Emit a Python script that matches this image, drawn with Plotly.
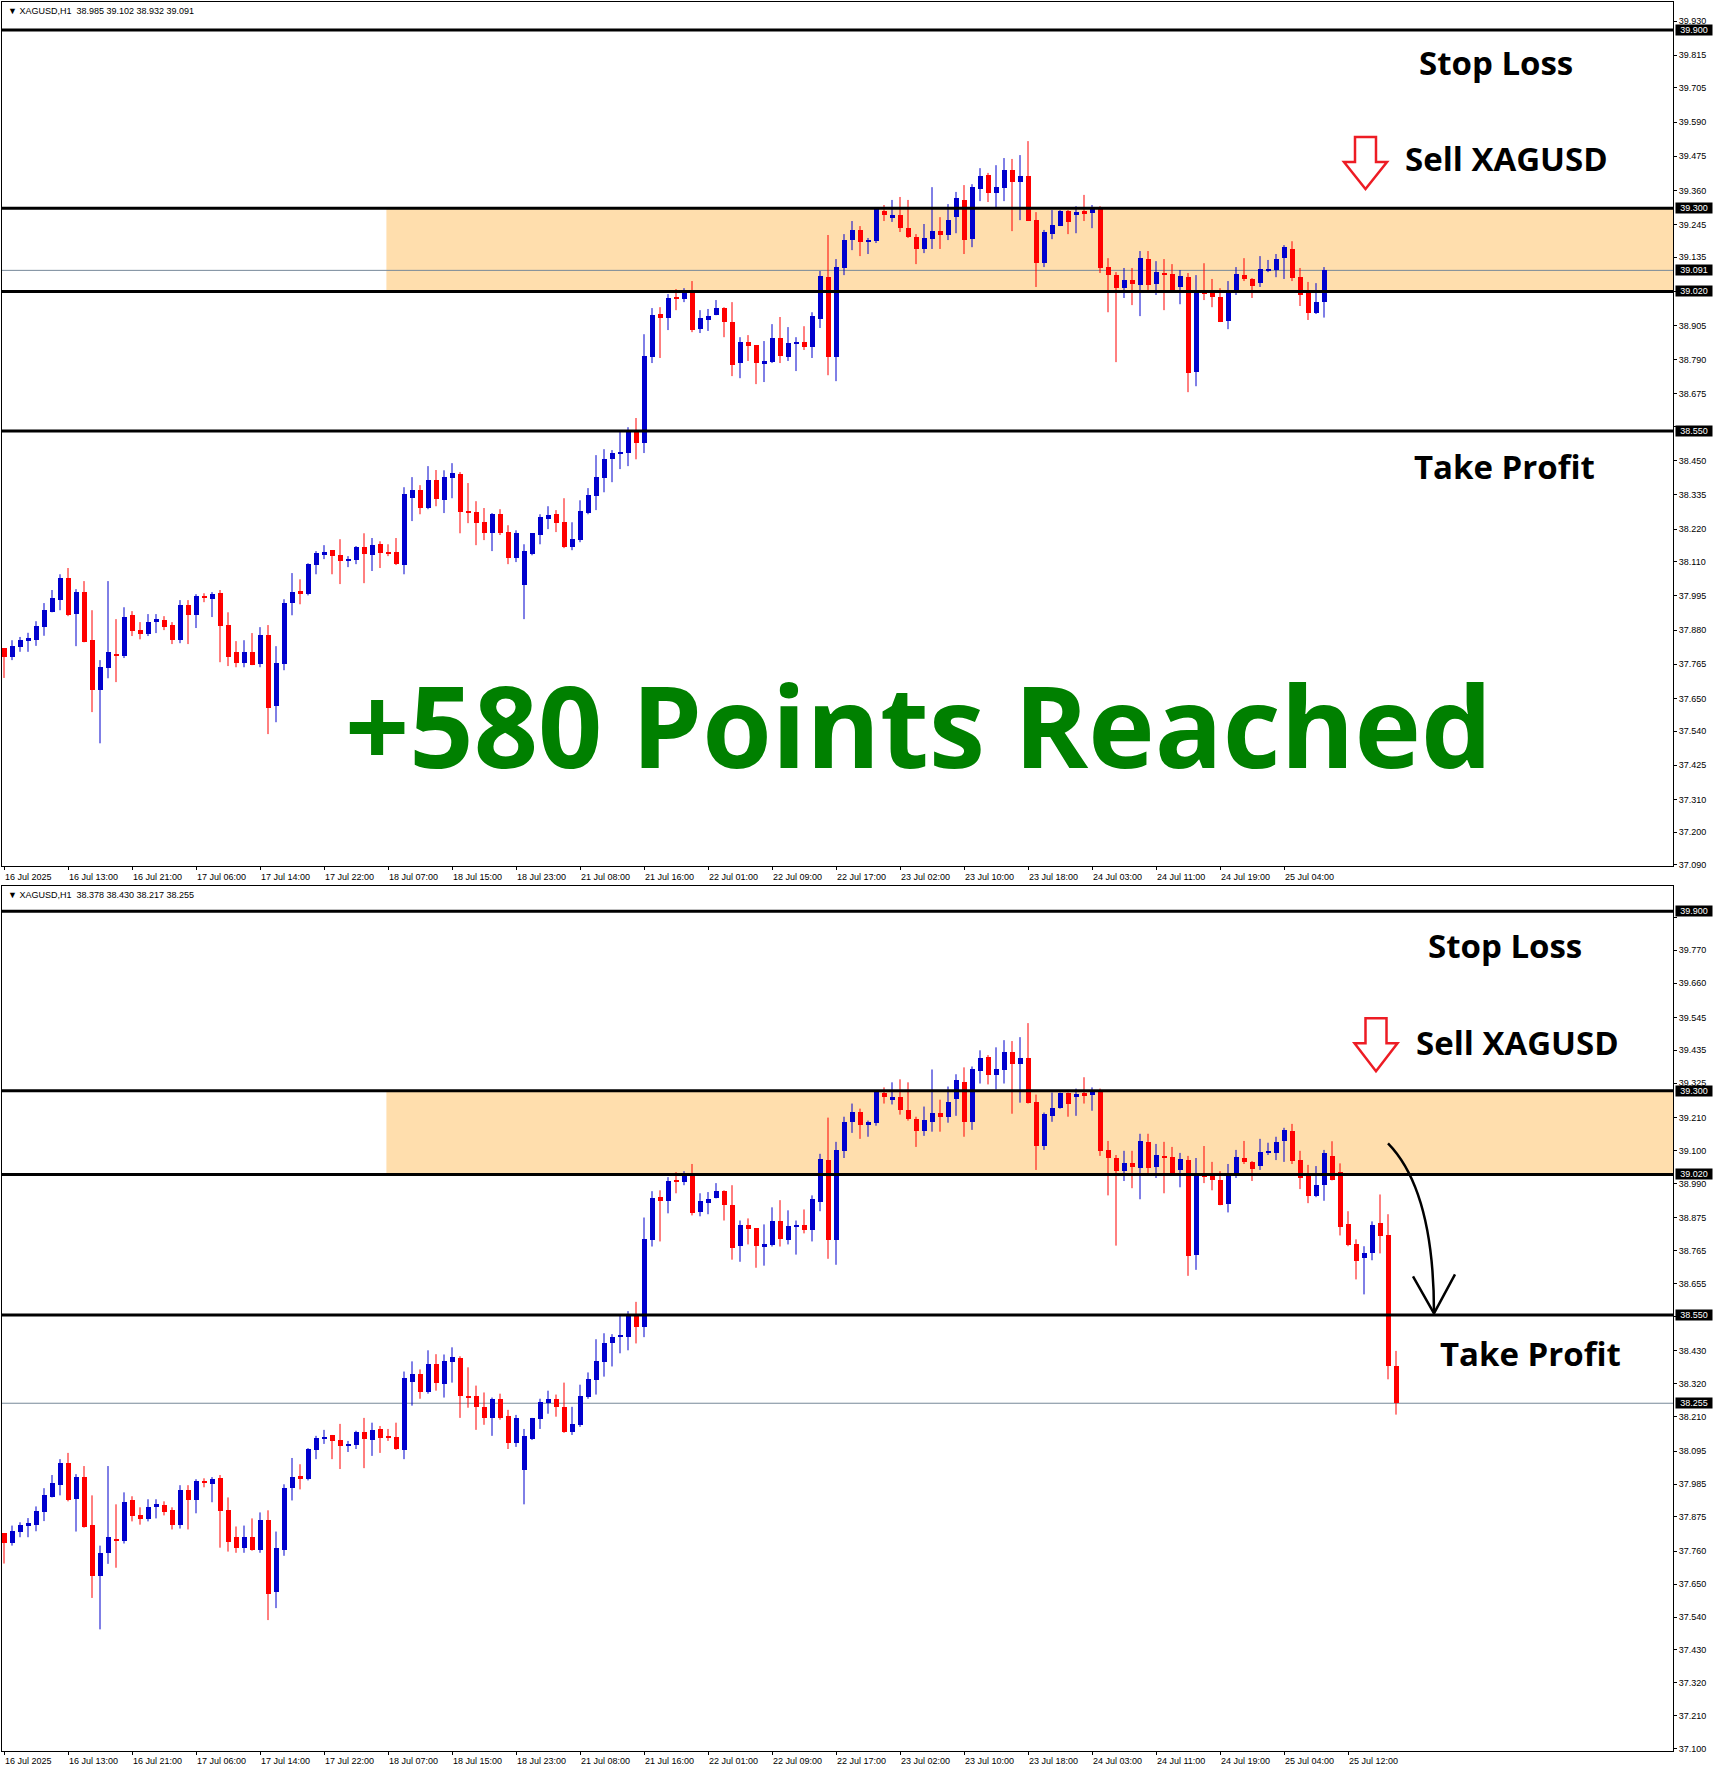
import plotly.graph_objects as go

W, H = 1714, 1768
H_EFF = 1763.5   # vertical compensation measured from the first render

# ---------------- data (XAGUSD H1) ----------------
opens = [37.819, 37.788, 37.824, 37.844, 37.846, 37.891, 37.940, 37.981, 38.055, 37.934,
         38.008, 37.846, 37.678, 37.752, 37.800, 37.792, 37.930, 37.880, 37.866, 37.907,
         37.913, 37.897, 37.846, 37.964, 37.930, 37.994, 37.984, 38.004, 37.897, 37.806,
         37.769, 37.806, 37.765, 37.863, 37.624, 37.765, 37.971, 38.011, 38.001, 38.099,
         38.136, 38.149, 38.132, 38.112, 38.115, 38.159, 38.132, 38.169, 38.142, 38.142,
         38.099, 38.324, 38.351, 38.291, 38.385, 38.317, 38.392, 38.405, 38.277, 38.277,
         38.243, 38.206, 38.270, 38.210, 38.122, 38.031, 38.136, 38.200, 38.254, 38.270,
         38.243, 38.159, 38.183, 38.274, 38.331, 38.392, 38.456, 38.476, 38.475, 38.550,
         38.509, 38.799, 38.944, 38.930, 38.998, 38.994, 39.018, 38.893, 38.924, 38.940,
         38.964, 38.917, 38.779, 38.850, 38.839, 38.775, 38.782, 38.863, 38.799, 38.846,
         38.850, 38.833, 38.927, 39.068, 38.799, 39.099, 39.193, 39.227, 39.186, 39.190,
         39.291, 39.267, 39.277, 39.233, 39.203, 39.163, 39.196, 39.223, 39.210, 39.270,
         39.328, 39.196, 39.365, 39.412, 39.351, 39.368, 39.429, 39.388, 39.408, 39.260,
         39.115, 39.213, 39.240, 39.291, 39.277, 39.291, 39.284, 39.297, 39.102, 39.075,
         39.031, 39.058, 39.041, 39.129, 39.045, 39.082, 39.078, 39.035, 39.068, 38.749,
         39.018, 39.015, 39.001, 38.920, 39.015, 39.075, 39.062, 39.048, 39.092, 39.092,
         39.132, 39.163, 39.068, 39.015, 38.947, 38.985, 39.081, 39.027, 38.853, 38.786,
         38.739, 38.756, 38.857, 38.816, 38.378]
highs = [37.819, 37.846, 37.857, 37.871, 37.910, 37.971, 38.015, 38.068, 38.089, 38.018,
         38.045, 37.947, 37.779, 38.045, 37.917, 37.957, 37.944, 37.907, 37.934, 37.934,
         37.927, 37.907, 37.981, 37.981, 38.001, 38.004, 38.008, 38.015, 37.940, 37.843,
         37.846, 37.870, 37.890, 37.897, 37.826, 37.984, 38.072, 38.051, 38.105, 38.146,
         38.166, 38.149, 38.186, 38.129, 38.163, 38.206, 38.190, 38.179, 38.169, 38.190,
         38.361, 38.395, 38.368, 38.432, 38.419, 38.418, 38.442, 38.412, 38.375, 38.314,
         38.291, 38.274, 38.287, 38.233, 38.216, 38.169, 38.206, 38.270, 38.297, 38.284,
         38.324, 38.243, 38.317, 38.358, 38.469, 38.489, 38.486, 38.547, 38.563, 38.594,
         38.876, 38.964, 38.967, 39.011, 39.028, 39.031, 39.055, 38.957, 38.961, 38.991,
         38.967, 38.984, 38.866, 38.873, 38.839, 38.853, 38.910, 38.934, 38.900, 38.866,
         38.903, 38.950, 39.089, 39.210, 39.129, 39.213, 39.257, 39.240, 39.200, 39.297,
         39.311, 39.328, 39.338, 39.328, 39.213, 39.247, 39.371, 39.270, 39.314, 39.355,
         39.378, 39.381, 39.435, 39.419, 39.445, 39.469, 39.466, 39.479, 39.526, 39.287,
         39.227, 39.294, 39.294, 39.294, 39.307, 39.345, 39.311, 39.307, 39.132, 39.085,
         39.099, 39.099, 39.156, 39.156, 39.122, 39.129, 39.112, 39.092, 39.082, 39.075,
         39.115, 39.062, 39.031, 39.055, 39.102, 39.132, 39.065, 39.139, 39.126, 39.146,
         39.176, 39.189, 39.099, 39.052, 39.048, 39.102, 39.131, 39.057, 38.897, 38.803,
         38.780, 38.863, 38.953, 38.887, 38.430]
lows = [37.719, 37.779, 37.807, 37.807, 37.827, 37.861, 37.940, 37.947, 37.927, 37.826,
        37.839, 37.604, 37.499, 37.718, 37.705, 37.786, 37.860, 37.849, 37.860, 37.870,
        37.880, 37.833, 37.836, 37.833, 37.887, 37.974, 37.924, 37.772, 37.759, 37.755,
        37.755, 37.762, 37.755, 37.530, 37.570, 37.745, 37.930, 37.967, 37.997, 38.068,
        38.119, 38.068, 38.035, 38.092, 38.102, 38.038, 38.079, 38.089, 38.129, 38.099,
        38.068, 38.247, 38.270, 38.287, 38.297, 38.274, 38.324, 38.206, 38.240, 38.166,
        38.183, 38.146, 38.200, 38.102, 38.109, 37.917, 38.132, 38.169, 38.220, 38.210,
        38.156, 38.149, 38.176, 38.270, 38.284, 38.344, 38.378, 38.422, 38.432, 38.455,
        38.476, 38.779, 38.796, 38.890, 38.957, 38.984, 38.883, 38.880, 38.887, 38.940,
        38.866, 38.735, 38.728, 38.786, 38.708, 38.715, 38.779, 38.779, 38.786, 38.752,
        38.823, 38.796, 38.897, 38.738, 38.718, 39.075, 39.159, 39.139, 39.146, 39.183,
        39.257, 39.254, 39.220, 39.200, 39.112, 39.149, 39.163, 39.163, 39.193, 39.216,
        39.146, 39.169, 39.324, 39.321, 39.304, 39.324, 39.223, 39.260, 39.257, 39.035,
        39.102, 39.196, 39.240, 39.213, 39.216, 39.257, 39.233, 39.082, 38.950, 38.782,
        38.998, 38.974, 38.937, 39.025, 39.008, 38.957, 39.025, 38.977, 38.681, 38.701,
        38.991, 38.967, 38.917, 38.893, 39.008, 39.055, 38.998, 39.035, 39.085, 39.068,
        39.062, 39.055, 38.971, 38.924, 38.944, 38.932, 39.000, 38.816, 38.780, 38.669,
        38.619, 38.733, 38.756, 38.335, 38.217]
closes = [37.788, 37.826, 37.846, 37.853, 37.893, 37.947, 37.988, 38.055, 37.930, 38.008,
          37.839, 37.678, 37.755, 37.806, 37.793, 37.923, 37.876, 37.866, 37.907, 37.917,
          37.890, 37.846, 37.964, 37.930, 37.994, 37.989, 38.001, 37.893, 37.789, 37.769,
          37.806, 37.762, 37.863, 37.617, 37.769, 37.971, 38.008, 38.001, 38.102, 38.139,
          38.142, 38.129, 38.112, 38.119, 38.159, 38.136, 38.166, 38.139, 38.139, 38.102,
          38.338, 38.351, 38.291, 38.385, 38.321, 38.395, 38.408, 38.277, 38.275, 38.240,
          38.206, 38.270, 38.206, 38.122, 38.206, 38.146, 38.206, 38.260, 38.267, 38.240,
          38.159, 38.186, 38.280, 38.334, 38.395, 38.456, 38.476, 38.478, 38.550, 38.509,
          38.802, 38.940, 38.930, 38.998, 38.996, 39.018, 38.890, 38.930, 38.937, 38.964,
          38.917, 38.772, 38.850, 38.836, 38.779, 38.786, 38.863, 38.802, 38.846, 38.850,
          38.833, 38.937, 39.072, 38.799, 39.102, 39.193, 39.227, 39.186, 39.193, 39.297,
          39.277, 39.277, 39.233, 39.203, 39.163, 39.200, 39.223, 39.210, 39.260, 39.334,
          39.193, 39.371, 39.408, 39.351, 39.371, 39.429, 39.388, 39.408, 39.257, 39.115,
          39.220, 39.243, 39.291, 39.254, 39.287, 39.281, 39.297, 39.099, 39.075, 39.031,
          39.058, 39.045, 39.132, 39.041, 39.085, 39.075, 39.025, 39.072, 38.745, 39.018,
          39.011, 39.001, 38.917, 39.018, 39.078, 39.062, 39.038, 39.095, 39.095, 39.129,
          39.169, 39.065, 39.008, 38.947, 38.984, 39.091, 39.000, 38.843, 38.783, 38.729,
          38.756, 38.850, 38.813, 38.378, 38.255]

top_bar_count = 166          # bars visible in the upper snapshot
label_bars = [0, 8, 16, 24, 32, 40, 48, 56, 64, 72, 80, 88, 96, 104, 112, 120, 128, 136, 144, 152, 160, 168]
time_labels = ["16 Jul 2025", "16 Jul 13:00", "16 Jul 21:00", "17 Jul 06:00", "17 Jul 14:00",
               "17 Jul 22:00", "18 Jul 07:00", "18 Jul 15:00", "18 Jul 23:00", "21 Jul 08:00",
               "21 Jul 16:00", "22 Jul 01:00", "22 Jul 09:00", "22 Jul 17:00", "23 Jul 02:00",
               "23 Jul 10:00", "23 Jul 18:00", "24 Jul 03:00", "24 Jul 11:00", "24 Jul 19:00",
               "25 Jul 04:00", "25 Jul 12:00"]
top_label_count = 21

yticks_top = [39.930, 39.815, 39.705, 39.590, 39.475, 39.360, 39.245, 39.135, 39.020, 38.905,
              38.790, 38.675, 38.565, 38.450, 38.335, 38.220, 38.110, 37.995, 37.880, 37.765,
              37.650, 37.540, 37.425, 37.310, 37.200, 37.090]
yticks_bottom = [39.880, 39.770, 39.660, 39.545, 39.435, 39.325, 39.210, 39.100, 38.990, 38.875,
                 38.765, 38.655, 38.545, 38.430, 38.320, 38.210, 38.095, 37.985, 37.875, 37.760,
                 37.650, 37.540, 37.430, 37.320, 37.210, 37.100]
# tick labels that sit under a highlighted price box keep their tick but no text
covered_top = [39.020, 38.565]
covered_bottom = [39.880, 38.545]

stop_loss = 39.900
zone_high = 39.300
zone_low = 39.020
take_profit = 38.550
zone_start_bar = 47.8
top_current = 39.091
bottom_current = 38.255
top_header = "\u25bc XAGUSD,H1  38.985 39.102 38.932 39.091"
bottom_header = "\u25bc XAGUSD,H1  38.378 38.430 38.217 38.255"
headline = "+580 Points Reached"

# ---------------- styling ----------------
BLUE = "#0000CD"
RED = "#FF0000"
ZONE = "#FFDEAD"
CUR = "#778899"
TXT_FONT = "Open Sans"
SMALL_FONT = "Liberation Sans"


def fx(px):
    return px / W


def fy(py):
    return 1 - py / H_EFF


X_RANGE = [-0.25, 208.625]
TOP_RANGE = [37.0852, 39.9943]
BOT_RANGE = [37.0906, 39.9836]

fig = go.Figure()


def add_candles(n, xa, ya):
    idx = list(range(n))
    o, h, l, c = opens[:n], highs[:n], lows[:n], closes[:n]
    up = [c[i] >= o[i] for i in idx]
    base = [min(o[i], c[i]) for i in idx]
    hgt = [max(abs(c[i] - o[i]), 0.0035) for i in idx]
    cols = [BLUE if u else RED for u in up]
    for flag, col in ((True, BLUE), (False, RED)):
        wx, wy = [], []
        for i in idx:
            if up[i] == flag:
                wx += [i, i, None]
                wy += [l[i], h[i], None]
        fig.add_trace(go.Scatter(x=wx, y=wy, mode="lines", line=dict(color=col, width=1),
                                 xaxis=xa, yaxis=ya, showlegend=False, hoverinfo="skip"))
    fig.add_trace(go.Bar(x=idx, y=hgt, base=base, width=0.625,
                         marker=dict(color=cols, line=dict(width=0)),
                         xaxis=xa, yaxis=ya, showlegend=False, hoverinfo="skip"))


add_candles(top_bar_count, "x", "y")
add_candles(len(opens), "x2", "y2")

shapes = []
annotations = []


def panel_decor(xref, yref, current, highlight_vals):
    shapes.append(dict(type="rect", xref=xref, yref=yref, x0=zone_start_bar, x1=X_RANGE[1],
                       y0=zone_low, y1=zone_high, fillcolor=ZONE, line=dict(width=0), layer="below"))
    shapes.append(dict(type="line", xref=xref, yref=yref, x0=X_RANGE[0], x1=X_RANGE[1],
                       y0=current, y1=current, line=dict(color=CUR, width=1), layer="below"))
    for lv in (stop_loss, zone_high, zone_low, take_profit):
        shapes.append(dict(type="line", xref=xref, yref=yref, x0=X_RANGE[0], x1=X_RANGE[1],
                           y0=lv, y1=lv, line=dict(color="black", width=3), layer="above"))
    for v in highlight_vals:
        annotations.append(dict(xref="paper", yref=yref, x=fx(1675), y=v, xanchor="left",
                                yanchor="middle", text=f"{v:.3f}", showarrow=False,
                                bgcolor="black", font=dict(family=SMALL_FONT, size=9, color="white"),
                                width=36, height=10, borderpad=0, align="center"))


panel_decor("x", "y", top_current, [stop_loss, zone_high, top_current, zone_low, take_profit])
panel_decor("x2", "y2", bottom_current, [stop_loss, zone_high, zone_low, take_profit, bottom_current])

# time labels
for k in range(top_label_count):
    annotations.append(dict(xref="x", yref="paper", x=label_bars[k] - 0.15, y=fy(877),
                            xanchor="left", yanchor="middle", text=time_labels[k], showarrow=False,
                            font=dict(family=SMALL_FONT, size=9, color="black")))
for k in range(len(time_labels)):
    annotations.append(dict(xref="x2", yref="paper", x=label_bars[k] - 0.15, y=fy(1761),
                            xanchor="left", yanchor="middle", text=time_labels[k], showarrow=False,
                            font=dict(family=SMALL_FONT, size=9, color="black")))

# headers
for txt, py in ((top_header, 11), (bottom_header, 895)):
    annotations.append(dict(xref="paper", yref="paper", x=fx(6), y=fy(py), xanchor="left",
                            yanchor="middle", text=txt, showarrow=False,
                            font=dict(family=SMALL_FONT, size=9, color="black")))


def label(txt, cx, cy, size=33, color="black"):
    annotations.append(dict(xref="paper", yref="paper", x=fx(cx), y=fy(cy), xanchor="center",
                            yanchor="middle", text=f"<b>{txt}</b>", showarrow=False,
                            font=dict(family=TXT_FONT, size=size, color=color)))


label("Stop Loss", 1496, 62)
label("Sell XAGUSD", 1506, 158)
label("Take Profit", 1504, 466)
label("Stop Loss", 1505, 945)
label("Sell XAGUSD", 1517, 1042)
label("Take Profit", 1530, 1353)
label(headline, 918, 724, size=112.5, color="#008000")


def P(a, b):
    return f"{fx(a):.5f},{fy(b):.5f}"


# hollow red sell arrows
def sell_arrow(cx, top, head_y, tip):
    pts = [(cx - 10.5, top), (cx + 10.5, top), (cx + 10.5, head_y), (cx + 21.5, head_y),
           (cx, tip), (cx - 21.5, head_y), (cx - 10.5, head_y)]
    path = "M " + " L ".join(P(a, b) for a, b in pts) + " Z"
    shapes.append(dict(type="path", xref="paper", yref="paper", path=path,
                       line=dict(color="#ED1C24", width=2.5), fillcolor="rgba(0,0,0,0)", layer="above"))


sell_arrow(1365.5, 137, 162, 189)
sell_arrow(1376, 1018, 1043, 1071)

# curved target arrow in the lower panel
shapes.append(dict(type="path", xref="paper", yref="paper",
                   path=f"M {P(1388,1143)} Q {P(1434,1190)} {P(1434,1313)}",
                   line=dict(color="black", width=2.5), layer="above"))
shapes.append(dict(type="path", xref="paper", yref="paper",
                   path=f"M {P(1413,1276)} L {P(1434,1313)} L {P(1455,1274)}",
                   line=dict(color="black", width=2.5), layer="above"))

axis_common = dict(showgrid=False, zeroline=False, showline=True, mirror=True,
                   linecolor="black", linewidth=1, fixedrange=True)


def tick_text(vals, covered):
    return ["" if v in covered else f"{v:.3f}" for v in vals]


fig.update_layout(
    width=W, height=H, margin=dict(l=0, r=0, t=0, b=0),
    paper_bgcolor="white", plot_bgcolor="white", showlegend=False,
    bargap=0,
    xaxis=dict(domain=[fx(2), fx(1673)], range=X_RANGE, anchor="y",
               tickvals=label_bars[:top_label_count], ticks="outside", ticklen=3,
               tickcolor="black", showticklabels=False, **axis_common),
    yaxis=dict(domain=[fy(866), fy(2)], range=TOP_RANGE, anchor="x", side="right",
               tickvals=yticks_top, ticktext=tick_text(yticks_top, covered_top),
               ticks="outside", ticklen=3, tickcolor="black",
               tickfont=dict(family=SMALL_FONT, size=9, color="black"), **axis_common),
    xaxis2=dict(domain=[fx(2), fx(1673)], range=X_RANGE, anchor="y2",
                tickvals=label_bars, ticks="outside", ticklen=3,
                tickcolor="black", showticklabels=False, **axis_common),
    yaxis2=dict(domain=[fy(1751), fy(886)], range=BOT_RANGE, anchor="x2", side="right",
                tickvals=yticks_bottom, ticktext=tick_text(yticks_bottom, covered_bottom),
                ticks="outside", ticklen=3, tickcolor="black",
                tickfont=dict(family=SMALL_FONT, size=9, color="black"), **axis_common),
    shapes=shapes, annotations=annotations,
)

fig.write_html("out.html", config={"displayModeBar": False},
               post_script="document.documentElement.style.overflow='hidden';"
                           "document.body.style.margin='0';document.body.style.overflow='hidden';")
